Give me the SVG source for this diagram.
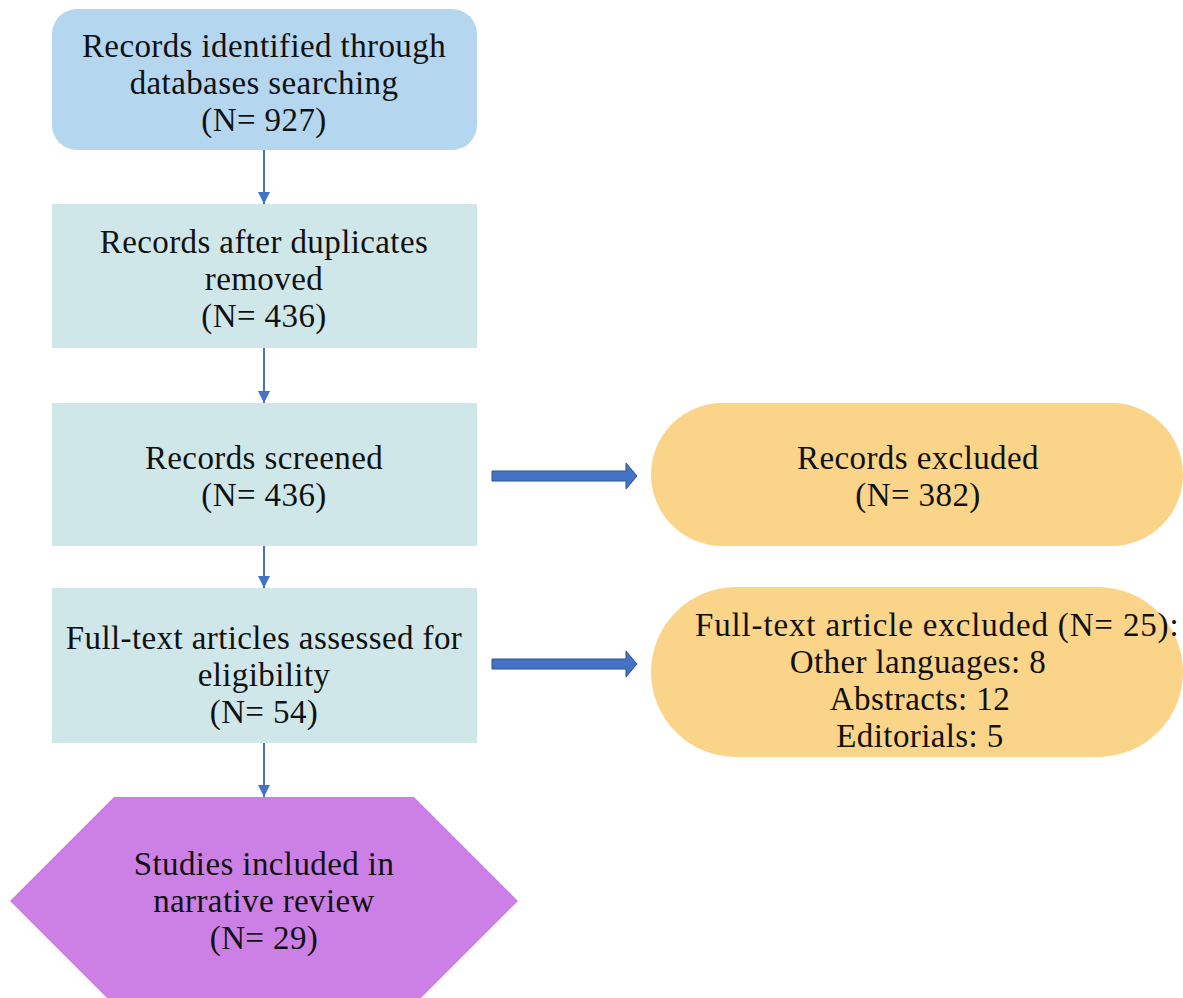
<svg xmlns="http://www.w3.org/2000/svg" width="1183" height="998" viewBox="0 0 1183 998">
<defs>
<style>
text{font-family:"Liberation Serif","Times New Roman",serif;font-size:33px;letter-spacing:0.4px;fill:#111;text-anchor:middle}
.teal{fill:#d0e7ea}
.pill{fill:#fad488}
.line{stroke:#4472c4;stroke-width:2;fill:none}
.block{fill:#4472c4;stroke:#2f528f;stroke-width:1}
</style>
<marker id="ah" markerWidth="12" markerHeight="12" viewBox="0 0 12 12" refX="12" refY="6" orient="auto" markerUnits="userSpaceOnUse">
<path d="M0,0 L12,6 L0,12 Z" fill="#4472c4"/>
</marker>
</defs>
<rect width="1183" height="998" fill="#ffffff"/>
<g id="n1">
<rect x="52" y="9" width="425" height="141" rx="25" fill="#b4d6ef"/>
<text x="264" y="57">Records identified through</text>
<text x="264" y="94">databases searching</text>
<text x="264" y="131">(N= 927)</text>
</g>
<g id="n2">
<rect class="teal" x="52" y="204" width="425" height="144"/>
<text x="264" y="253">Records after duplicates</text>
<text x="264" y="290">removed</text>
<text x="264" y="327">(N= 436)</text>
</g>
<g id="n3">
<rect class="teal" x="52" y="403" width="425" height="143"/>
<text x="264" y="469">Records screened</text>
<text x="264" y="506">(N= 436)</text>
</g>
<g id="n4">
<rect class="teal" x="52" y="588" width="425" height="155"/>
<text x="264" y="649">Full-text articles assessed for</text>
<text x="264" y="686">eligibility</text>
<text x="264" y="723">(N= 54)</text>
</g>
<g id="n5">
<polygon points="114,797 414,797 518,901 414,1005 114,1005 10,901" fill="#cc80e6"/>
<text x="264" y="875">Studies included in</text>
<text x="264" y="912">narrative review</text>
<text x="264" y="949">(N= 29)</text>
</g>
<g id="n6">
<rect class="pill" x="651" y="403" width="532" height="143" rx="71.5"/>
<text x="918" y="469">Records excluded</text>
<text x="918" y="506">(N= 382)</text>
</g>
<g id="n7">
<rect class="pill" x="651" y="587" width="532" height="170" rx="85"/>
<text x="937" y="636" textLength="484" lengthAdjust="spacing">Full-text article excluded (N= 25):</text>
<text x="918" y="673">Other languages: 8</text>
<text x="920" y="710">Abstracts: 12</text>
<text x="920" y="747">Editorials: 5</text>
</g>
<g id="connectors">
<line class="line" x1="264" y1="150" x2="264" y2="204" marker-end="url(#ah)"/>
<line class="line" x1="264" y1="348" x2="264" y2="403" marker-end="url(#ah)"/>
<line class="line" x1="264" y1="546" x2="264" y2="588" marker-end="url(#ah)"/>
<line class="line" x1="264" y1="743" x2="264" y2="797" marker-end="url(#ah)"/>
<path class="block" d="M492,471 H626 V463 L637,476 L626,489 V481 H492 Z"/>
<path class="block" d="M492,659 H626 V651 L637,664 L626,677 V669 H492 Z"/>
</g>
</svg>
